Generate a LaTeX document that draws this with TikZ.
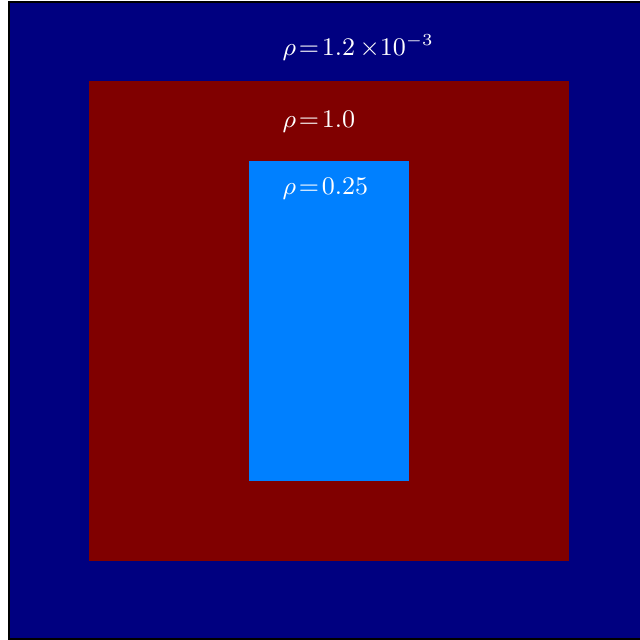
\documentclass[tikz,border=0pt]{standalone}
\usepackage{tikz}
\usetikzlibrary{positioning}
\definecolor{gasblue}{RGB}{0,0,128}
\definecolor{waterred}{RGB}{128,0,0}
\definecolor{bubbleblue}{RGB}{0,128,255}

\begin{document}
\begin{tikzpicture}[
        x=1cm, y=1cm,
        % Style cho các vùng và nhãn
        region/.style={draw=none},
        rholabel/.style={text=white, anchor=base west, inner sep=0pt, font=\fontsize{8.7}{10}\selectfont}
    ]
        \useasboundingbox (0,0) rectangle (7.9875,-8);

        % Các vùng mật độ
        \filldraw[fill=gasblue, draw=black, line width=0.6pt] (0.1125,-0.025) rectangle (8.1,-7.9875);
        \fill[region, fill=waterred] (1.1125,-1.0125) rectangle (7.1125,-7.0125);
        \fill[region, fill=bubbleblue] (3.1125,-2.0125) rectangle (5.1125,-6.0125);

        % Nhãn
        \node[rholabel] (rhogas) at (3.525,-0.7) {$\rho\!=\!1.2\,{\times}10^{-3}$};
        \node[rholabel] (rhowater) at (3.525,-1.6) {$\rho\!=\!1.0$};
        \node[rholabel] (rhobubble) at (3.525,-2.4375) {$\rho\!=\!0.25$};

    \end{tikzpicture}
\end{document}
